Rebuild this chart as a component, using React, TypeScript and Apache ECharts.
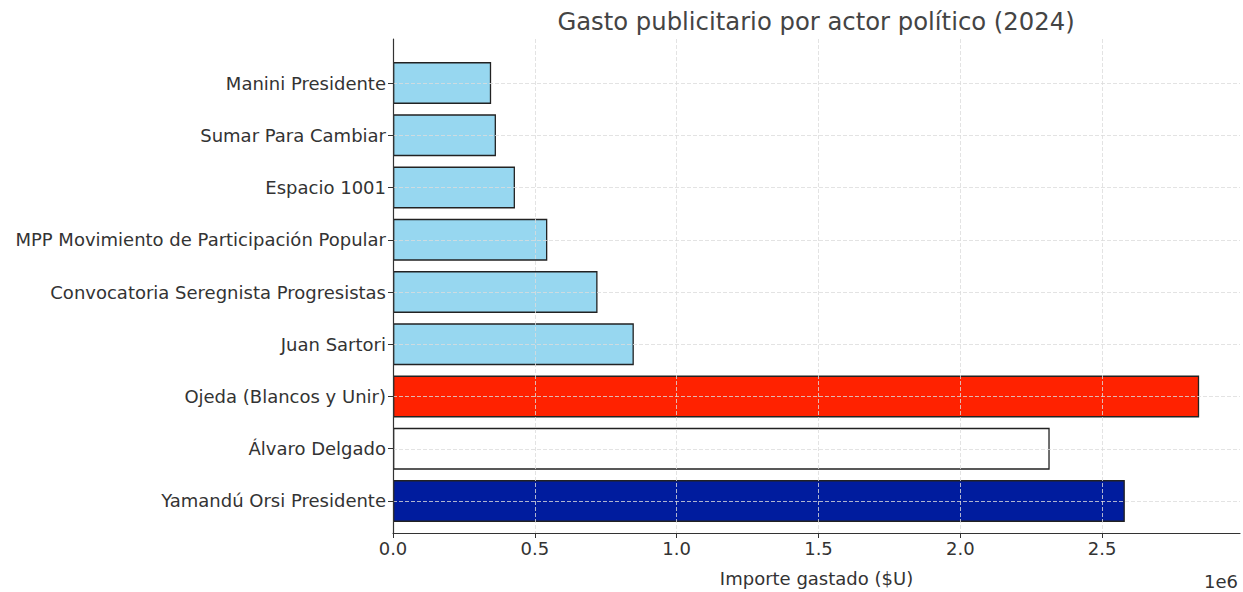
import React, { useEffect, useRef } from "react";
import * as echarts from "echarts";

const categories = [
  "Yamandú Orsi Presidente",
  "Álvaro Delgado",
  "Ojeda (Blancos y Unir)",
  "Juan Sartori",
  "Convocatoria Seregnista Progresistas",
  "MPP Movimiento de Participación Popular",
  "Espacio 1001",
  "Sumar Para Cambiar",
  "Manini Presidente",
];
const values = [2580000, 2315000, 2842000, 849000, 721000, 544000, 430000, 363000, 346000];
const barColors = ["#001C9E", "#FFFFFF", "#FF2200", "#97D7F0", "#97D7F0", "#97D7F0", "#97D7F0", "#97D7F0", "#97D7F0"];
const xMin = 0;
const xMax = 2986000;
const xInterval = 500000;
const title = "Gasto publicitario por actor político (2024)";
const xName = "Importe gastado ($U)";
const offsetText = "1e6";

const FONT = "DejaVu Sans";

export default function App() {
  const ref = useRef<HTMLDivElement>(null);
  useEffect(() => {
    if (!ref.current) return;
    const chart = echarts.init(ref.current, undefined, { renderer: "svg" });
    const gridLine = {
      show: true,
      showMinLine: false,
      showMaxLine: false,
      lineStyle: { color: "#dcdcdc", width: 0.8, type: [4, 2] },
    };
    chart.setOption({
      animation: false,
      backgroundColor: "#ffffff",
      title: {
        text: title,
        left: 811,
        textAlign: "center",
        top: 4,
        textStyle: { fontFamily: FONT, fontSize: 24.3, fontWeight: "normal", color: "#444" },
      },
      grid: [
        { left: 393, right: 3, top: 39, bottom: 48, containLabel: false },
        { left: 393, right: 3, top: 56.9, bottom: 64.9, containLabel: false },
        { left: 393, right: 3, top: 83, bottom: 91, containLabel: false },
      ],
      xAxis: [
        {
          gridIndex: 0,
          type: "value",
          min: xMin,
          max: xMax,
          interval: xInterval,
          z: 10,
          axisLine: { show: true, lineStyle: { color: "#333", width: 1.2 } },
          axisTick: { show: true, length: 5, lineStyle: { color: "#333" } },
          axisLabel: {
            show: true,
            showMaxLabel: false,
            margin: 6,
            fontFamily: FONT,
            fontSize: 18,
            color: "#333",
            formatter: (v: number) => (v / 1e6).toFixed(1),
          },
          splitLine: gridLine,
          name: xName,
          nameLocation: "middle",
          nameGap: 36,
          nameTextStyle: { fontFamily: FONT, fontSize: 18, color: "#333" },
        },
        { gridIndex: 1, type: "value", min: xMin, max: xMax, show: false },
        { gridIndex: 2, type: "value", min: xMin, max: xMax, show: false },
      ],
      yAxis: [
        {
          gridIndex: 0,
          type: "value",
          min: 0,
          max: 1,
          z: 11,
          axisLine: { show: true, lineStyle: { color: "#333", width: 1.2 } },
          axisTick: { show: false },
          axisLabel: { show: false },
          splitLine: { show: false },
        },
        {
          gridIndex: 1,
          type: "category",
          data: categories,
          axisLine: { show: false },
          axisTick: { show: true, alignWithLabel: true, length: 5, lineStyle: { color: "#333" } },
          axisLabel: { margin: 7, fontFamily: FONT, fontSize: 18, color: "#333" },
          splitLine: { show: false },
        },
        {
          gridIndex: 2,
          type: "category",
          data: categories,
          boundaryGap: false,
          z: 10,
          axisLine: { show: false },
          axisTick: { show: false },
          axisLabel: { show: false },
          splitLine: { show: true, lineStyle: { color: "#dcdcdc", width: 0.8, type: [4, 2] } },
        },
      ],
      series: [
        {
          type: "bar",
          xAxisIndex: 1,
          yAxisIndex: 1,
          barWidth: "80%",
          data: values.map((v, i) => ({
            value: v,
            itemStyle: { color: barColors[i] },
          })),
          itemStyle: { borderColor: "#222", borderWidth: 1.3 },
        },
      ],
      graphic: [
        {
          type: "text",
          right: 5,
          top: 572,
          style: { text: offsetText, fontFamily: FONT, fontSize: 18, fill: "#333" },
        },
      ],
    });
    return () => chart.dispose();
  }, []);
  return (
    <div
      ref={ref}
      style={{ position: "absolute", left: 0, top: 0, width: 1243, height: 592 }}
    />
  );
}
